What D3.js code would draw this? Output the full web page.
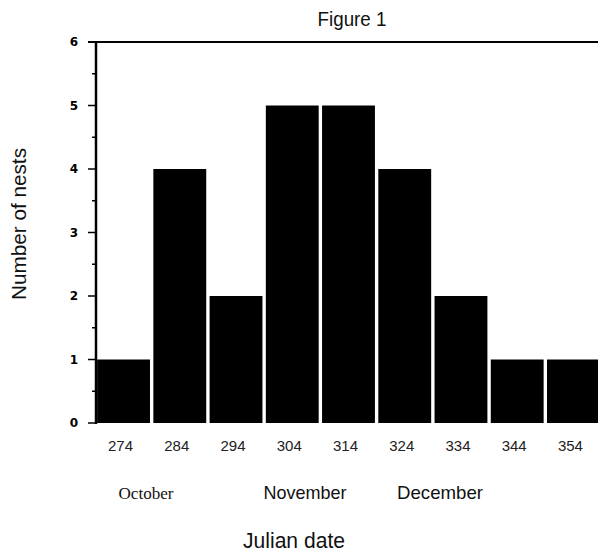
<!DOCTYPE html>
<html>
<head>
<meta charset="utf-8">
<script src="https://cdn.jsdelivr.net/npm/d3@7"></script>
<style>
  body { margin: 0; background: #fff; }
  svg { display: block; }
</style>
</head>
<body>
<svg id="chart"></svg>
<script>
// Julian dates (bar categories) and nest counts
const days = [274, 284, 294, 304, 314, 324, 334, 344, 354];
const nests = [1, 4, 2, 5, 5, 4, 2, 1, 1];
const yTicks = [0, 1, 2, 3, 4, 5, 6];
const months = ["October", "November", "December"];

const W = 598, H = 556;
const sans = "Liberation Sans, Arial, sans-serif";
const svg = d3.select("#chart").attr("width", W).attr("height", H);

const x = d3.scaleBand()
  .domain(days)
  .range([96, 601])
  .paddingInner(0.06)
  .paddingOuter(0.02);

const y = d3.scaleLinear()
  .domain([0, 6])
  .range([423, 42]);

// Bars
svg.selectAll("rect.bar")
  .data(days.map((d, i) => ({ day: d, n: nests[i] })))
  .enter()
  .append("rect")
  .attr("class", "bar")
  .attr("x", d => x(d.day))
  .attr("y", d => y(d.n))
  .attr("width", x.bandwidth())
  .attr("height", d => y(0) - y(d.n))
  .attr("fill", "#000");

// Top frame line
svg.append("line")
  .attr("x1", 88).attr("x2", W)
  .attr("y1", y(6)).attr("y2", y(6))
  .attr("stroke", "#000").attr("stroke-width", 2);

// Y axis with minor half-unit ticks
const yAxis = svg.append("g").attr("transform", "translate(96,0)");
yAxis.append("line")
  .attr("x1", 0).attr("x2", 0)
  .attr("y1", y(6) - 1).attr("y2", y(0) + 1)
  .attr("stroke", "#000").attr("stroke-width", 2.5);
yAxis.selectAll("line.major")
  .data(yTicks)
  .enter().append("line")
  .attr("x1", -8).attr("x2", 0)
  .attr("y1", d => y(d)).attr("y2", d => y(d))
  .attr("stroke", "#000").attr("stroke-width", 1.5);
yAxis.selectAll("line.minor")
  .data(d3.range(0.5, 6, 1))
  .enter().append("line")
  .attr("x1", -4).attr("x2", 0)
  .attr("y1", d => y(d)).attr("y2", d => y(d))
  .attr("stroke", "#000").attr("stroke-width", 1.5);
yAxis.selectAll("text")
  .data(yTicks)
  .enter().append("text")
  .attr("x", -18)
  .attr("y", d => y(d))
  .attr("dy", "0.35em")
  .attr("text-anchor", "end")
  .style("font-family", "DejaVu Sans, sans-serif")
  .style("font-size", "12px")
  .style("font-weight", "bold")
  .text(d => d);

// X tick labels
svg.selectAll("text.xlab")
  .data(days)
  .enter().append("text")
  .attr("class", "xlab")
  .attr("x", d => x(d) + x.bandwidth() / 2 - 3)
  .attr("y", 451)
  .attr("text-anchor", "middle")
  .style("font-family", sans)
  .style("font-size", "15px")
  .style("fill", "#222")
  .text(d => d);

// Month labels
const monthX = [146, 305, 440];
const monthW = [55, 83, 86];
svg.selectAll("text.month")
  .data(months)
  .enter().append("text")
  .attr("class", "month")
  .attr("x", (d, i) => monthX[i])
  .attr("y", 499)
  .attr("text-anchor", "middle")
  .attr("textLength", (d, i) => monthW[i])
  .attr("lengthAdjust", "spacingAndGlyphs")
  .style("font-family", (d, i) => i === 0 ? "Liberation Serif, serif" : sans)
  .style("font-size", (d, i) => i === 0 ? "16px" : "19px")
  .style("fill", "#111")
  .text(d => d);

// Axis titles
svg.append("text")
  .attr("x", 294).attr("y", 548)
  .attr("text-anchor", "middle")
  .attr("textLength", 102)
  .attr("lengthAdjust", "spacingAndGlyphs")
  .style("font-family", sans)
  .style("font-size", "22px")
  .style("fill", "#111")
  .text("Julian date");

svg.append("text")
  .attr("transform", "translate(26,224) rotate(-90)")
  .attr("text-anchor", "middle")
  .attr("textLength", 152)
  .attr("lengthAdjust", "spacingAndGlyphs")
  .style("font-family", sans)
  .style("font-size", "21px")
  .style("fill", "#111")
  .text("Number of nests");

svg.append("text")
  .attr("x", 352).attr("y", 26)
  .attr("text-anchor", "middle")
  .attr("textLength", 69)
  .attr("lengthAdjust", "spacingAndGlyphs")
  .style("font-family", sans)
  .style("font-size", "21px")
  .style("fill", "#111")
  .text("Figure 1");
</script>
</body>
</html>
